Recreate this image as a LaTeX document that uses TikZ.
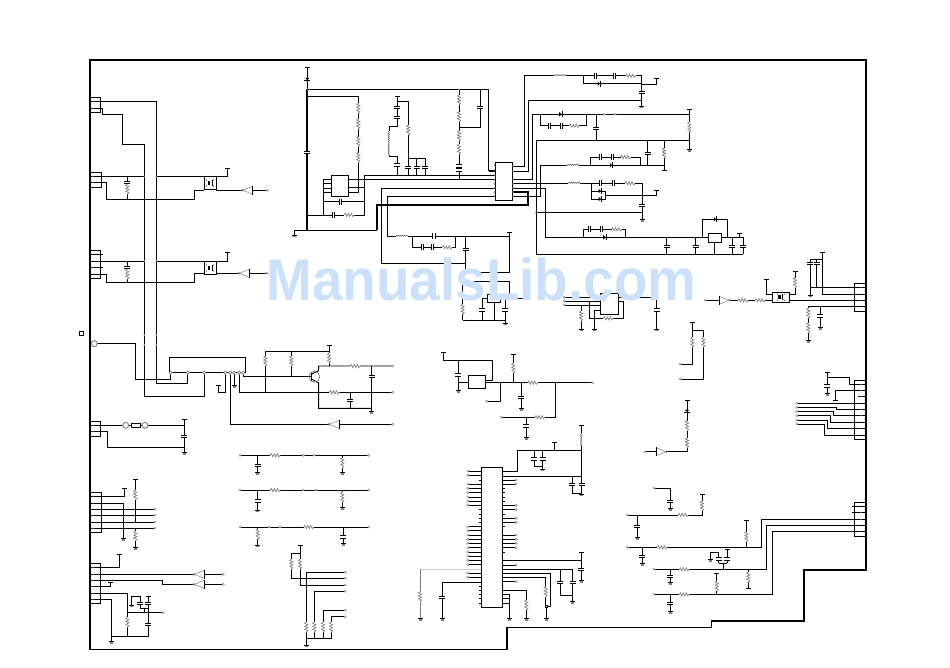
\documentclass[tikz,border=0pt]{standalone}
\usepackage{fontspec}
\usepackage{tikz}
\setmainfont{Liberation Sans}
\pgfdeclarelayer{nodelayer}
\pgfdeclarelayer{edgelayer}
\pgfsetlayers{edgelayer,nodelayer,main}
\definecolor{markgray}{gray}{0.5}
\definecolor{wmblue}{RGB}{204,224,250}
\newcommand{\boxat}[5]{\node [icbox, minimum width={(#4-#2)*1pt}, minimum height={(#5-#3)*1pt}] (#1) at ({(#2+#4)/2},{(#3+#5)/2}) {};}
\tikzset{
  wire/.style={line width=0.95pt},
  heavy/.style={line width=2.1pt},
  icbox/.style={draw, line width=0.95pt, inner sep=0pt, outer sep=0pt},
  term/.style={circle, draw=markgray, fill=white, line width=0.4pt, inner sep=0.8pt},
  pad/.style={circle, draw=markgray, fill=white, line width=0.7pt, inner sep=1.2pt},
  bigpad/.style={circle, draw=markgray, fill=white, line width=0.9pt, inner sep=2.1pt},
  jdot/.style={circle, fill=markgray, inner sep=0.7pt},
  resv/.pic={\fill [white] (-2,-5) rectangle (2,5);
    \draw [markgray, line width=0.7pt] (0,-5) -- (-1.6,-4) -- (1.6,-2.5) -- (-1.6,-1) -- (1.6,0.5) -- (-1.6,2) -- (1.6,3.5) -- (0,5);},
  resh/.pic={\fill [white] (-5,-2) rectangle (5,2);
    \draw [markgray, line width=0.7pt] (-5,0) -- (-4,-1.6) -- (-2.5,1.6) -- (-1,-1.6) -- (0.5,1.6) -- (2,-1.6) -- (3.5,1.6) -- (5,0);},
  capv/.pic={\fill [white] (-3,-1) rectangle (3,1);
    \draw [line width=0.95pt] (-3,-1.2) -- (3,-1.2) (-3,1.2) -- (3,1.2);},
  caph/.pic={\fill [white] (-1,-3) rectangle (1,3);
    \draw [line width=0.95pt] (-1.2,-3) -- (-1.2,3) (1.2,-3) -- (1.2,3);},
  dioh/.pic={\fill (-1.5,-2.2) -- (1,0) -- (-1.5,2.2) -- cycle;
    \draw [line width=0.95pt] (1.5,-3) -- (1.5,3);},
  diov/.pic={\fill (-2.2,-1.5) -- (0,1) -- (2.2,-1.5) -- cycle;
    \draw [line width=0.95pt] (-3,1.5) -- (3,1.5);},
  indh/.pic={\fill [white] (-6,-1.5) rectangle (6,1.5);
    \draw [markgray, line width=0.7pt] (-6,0) -- (-5,-1.2) -- (-4,0) -- (-3,-1.2) -- (-2,0) -- (-1,-1.2) -- (0,0) -- (1,-1.2) -- (2,0) -- (3,-1.2) -- (4,0) -- (5,-1.2) -- (6,0);},
  indv/.pic={\fill [white] (-1.5,-6) rectangle (1.5,6);
    \draw [markgray, line width=0.7pt] (0,-6) -- (-1.2,-5) -- (0,-4) -- (-1.2,-3) -- (0,-2) -- (-1.2,-1) -- (0,0) -- (-1.2,1) -- (0,2) -- (-1.2,3) -- (0,4) -- (-1.2,5) -- (0,6);},
  gnd/.pic={\draw [line width=0.95pt] (-2.5,0) -- (2.5,0);
    \fill [markgray] (-1.5,0.6) rectangle (1.5,2.4);},
  tbar/.pic={\draw [line width=0.95pt] (-2.5,0) -- (2.5,0);},
  bufl/.pic={\draw [markgray, fill=white, line width=0.5pt] (0,0) -- (10,-4) -- (10,4) -- cycle;
    \draw [markgray, line width=0.5pt] (-0.4,0) circle (1);
    \draw [line width=0.95pt] (10,-4.5) -- (10,4.5);},
  bufr/.pic={\draw [markgray, fill=white, line width=0.5pt] (10,0) -- (0,-4) -- (0,4) -- cycle;
    \draw [markgray, line width=0.5pt] (10.4,0) circle (1);
    \draw [line width=0.95pt] (0,-4.5) -- (0,4.5);},
  opto/.pic={\fill (-2.4,-2) rectangle (0.2,2);
    \draw [markgray, line width=0.7pt] (-4,-4) -- (-3,-2) (-3,2) -- (-4,4) (3,-2) -- (4,-4) (3,2) -- (4,4);
    \draw [line width=0.8pt] (2,-3) -- (2,3);}
}
\begin{document}
\begin{tikzpicture}[x=1pt, y=-1pt]
  \useasboundingbox (0,0) rectangle (950,667);
  \begin{pgfonlayer}{nodelayer}
    \boxat{j1}{90.7}{97.3}{100.7}{112.7}
    \boxat{j2}{90.7}{172.3}{101.3}{187.3}
    \boxat{j3}{90.7}{250.3}{100.7}{278.7}
    \boxat{j4}{90.7}{421.3}{100.7}{436.7}
    \boxat{j5}{90.7}{492.3}{101.3}{532.3}
    \boxat{j6}{90.7}{563.3}{100.7}{603.3}
    \boxat{j7}{854.3}{283.3}{866}{311.7}
    \boxat{j8}{854.3}{380}{866}{439.3}
    \boxat{j9}{854.3}{502.3}{866}{536.7}
    \boxat{u1}{169.3}{357.7}{245.7}{372.7}
    \boxat{u2}{495.3}{162.3}{512.5}{200.5}
    \boxat{u3}{331.3}{175.3}{348.3}{196.3}
    \boxat{u4}{487.3}{294.3}{500.7}{302.5}
    \boxat{u5}{600}{293.3}{618.3}{314.3}
    \boxat{u6}{708.3}{233.3}{721.7}{242.3}
    \boxat{u7}{468.3}{375}{485.7}{388.3}
    \boxat{u8}{481.3}{467.3}{502.3}{607.3}
    \boxat{q1}{204}{176.7}{216}{189.3}
    \boxat{q2}{204}{261.7}{216}{274}
    \boxat{q3}{772.3}{292.3}{789.3}{302.3}
    \boxat{sq}{79}{331}{83}{335}
    \node [circle, draw=markgray, line width=0.7pt, inner sep=0pt, minimum size=11pt] (trc) at (314.3,376.7) {};
    \node [draw, line width=0.7pt, fill=white, inner sep=0pt, minimum width=9pt, minimum height=3.5pt] (fuse) at (136,425.3) {};
    \node [bigpad] (p1) at (94.3,343.7) {};
    \node [bigpad] (p2) at (125.7,425.3) {};
    \node [bigpad] (p3) at (145,425.3) {};
    \node [draw, line width=1pt, fill=white, inner sep=1.2pt] (p4) at (546.7,606.7) {};
    \foreach \x/\y [count=\i] in {170.7/372.7, 187.7/372.7, 204.3/372.7, 225.3/372.7, 230.3/372.7, 234/372.7, 239.3/372.7, 243.3/372.7}
      \node [pad] (pu\i) at (\x,\y) {};
    \foreach \y [count=\i] in {165,170,175,180,184,188,192,196}
      \node [jdot] (pl\i) at (494.6,\y) {};
    \foreach \y [count=\i] in {166,171,179,184,188,192,196}
      \node [jdot] (pr\i) at (513.2,\y) {};
    \foreach \x/\y [count=\i] in {144.3/335, 156.3/335, 144.3/345, 156.3/345, 144.3/176.3, 156.3/176.3, 144.3/261, 156.3/261, 307.3/89.3, 459/89.3, 536/212.3, 604/300}
      \node [jdot] (d\i) at (\x,\y) {};
    \foreach \x/\y [count=\i] in {93/101.7, 93/108.3, 93/176.3, 93/182.3, 93/254, 93/261, 93/267.3, 93/274, 93/425.3, 93/431.7,
      93/496, 93/503, 93/509, 93/515.3, 93/522, 93/528.3, 93/567.3, 93/574.3, 93/580.3, 93/586.7, 93/593.3, 93/599.3,
      861/287.7, 861/294, 861/300.3, 861/306.7, 861/384.3, 861/390.3, 861/396.7, 861/403, 861/409.3, 861/415.7, 861/422, 861/428.7, 861/435,
      861/506, 861/512.3, 861/519.3, 861/525, 861/531.3}
      \node [jdot, inner sep=0.5pt] (cp\i) at (\x,\y) {};
    \foreach \x/\y [count=\i] in {267.3/190.3, 267.3/273.3, 392.7/366, 392.7/392.3, 392.7/424.3, 240/455.3, 368.7/455.3, 303.3/455.3, 314/455.3,
      240/490, 368.7/490, 303.3/490, 316/490, 240/527, 368.7/527, 269.3/527, 280/527, 155/509, 155/515.3, 155/522, 155/528.3,
      223.3/574.3, 223.3/584.3, 163.3/612.7, 345.3/572.3, 345.3/578.3, 345.3/585, 345.3/591.3, 345.3/610.3, 345.3/616.7,
      604.3/114.3, 615/114.3, 564.3/297.3, 564.3/301, 564.3/305, 705/300.3, 680.3/364, 680.3/379, 645/451.7,
      796.7/403.3, 796.7/407.3, 796.7/411.3, 796.7/415.7, 796.7/420, 796.7/424,
      592.7/382.7, 486.7/401.3, 501.3/417.3, 654/488.3, 627.3/515, 627.3/547.3, 654/569.3, 654/594.3}
      \node [term] (t\i) at (\x,\y) {};
    \foreach \y [count=\i] in {480,484,505.3,509.7,518.3,522.3,535,539.3,543.3,547.7,565,581.7}
      \node [term] (tr\i) at (516.3,\y) {};
    \foreach \y [count=\i] in {471,475.3,484,488.3,492.7,497,501.3,505.3,526.7,530.7,535,539.3,543.3,547.7,552,556,560.3,564.7,573.3,577.3}
      \node [term] (tl\i) at (467.7,\y) {};
    \foreach \x/\y in {127.3/189.3, 127.3/274.3, 265.3/361, 291.3/361, 329/358.3, 342.3/462.7, 342.3/497.3, 257.7/534, 135.3/495, 135.3/536,
      127.3/622.3, 291.3/564.3, 300/564.3, 306.3/627.3, 314.3/627.3, 323/627.3, 331/627.3, 358.3/108.3, 358.3/124, 358.3/141.7, 358.3/157.7,
      408.3/130, 459/100, 459/116.7, 459/136, 459/149.3, 462.7/309.3, 581/316, 689.3/127.3, 664/153, 795/282.7, 808.3/313.3, 808.3/327.7,
      692.3/342.3, 703.3/342.3, 687/425.7, 687/443, 513.3/368.3, 526.3/605, 545.7/591.7, 702/506, 746.3/536.7, 748.3/577.3, 716.7/586, 420/596.7}
      \pic at (\x,\y) {resv};
    \foreach \x/\y in {355.3/366, 334.3/392.3, 275.3/455.3, 275.3/490, 308.7/527, 349.3/215, 532.7/382.7, 540/417.3, 447.3/247.3, 630.7/75.7,
      574.3/125.7, 625.7/157, 630/183.3, 616.7/229.3, 608.3/318.3, 743/300.3, 760/300.3, 683.3/515, 662.3/547.3, 684.3/569.3, 684.3/594.3}
      \pic at (\x,\y) {resh};
    \foreach \x/\y in {127.3/182.3, 127.3/267.3, 371.7/376.7, 350.3/400.7, 184.3/436.3, 257.7/465.7, 257.7/501, 343.3/537, 148.3/624.3, 140/603.7,
      148.3/603.7, 307.3/152.3, 397.3/107.7, 397.3/117.3, 408.3/167.3, 397.3/165, 416.7/167.3, 425.3/167.3, 459/166, 459/170, 480/107.7, 465.7/249.3,
      482.3/310, 505.3/310, 641.7/92.7, 596/128.3, 647.7/153.3, 642.3/205.3, 666.7/246.7, 695.7/246.7, 732.3/246.7, 743.3/246.7, 656.7/310, 810/263.3,
      816.7/263.3, 820.3/316, 827/386, 458/375, 521.3/397.3, 526/426, 534.3/459, 542.7/459, 572/484.3, 581.7/484.3, 581/569.3, 572.7/582.3, 560/582.3,
      442.3/597.3, 670/501.7, 637.3/526.7, 642.3/556.7, 670/576.7, 670/603.3, 718.7/559, 727.3/559}
      \pic at (\x,\y) {capv};
    \foreach \x/\y in {340.7/201.7, 333.3/215, 434/236.3, 422.7/247.3, 432.7/247.3, 595.7/75.7, 614.3/75.7, 549.3/125.7, 561.3/125.7, 600.3/157, 612.3/157,
      600.3/183.3, 613.3/183.3, 589.3/229.3, 601.3/229.3}
      \pic at (\x,\y) {caph};
    \foreach \x/\y in {599/83.7, 560.7/114.3, 611.3/165.3, 600/191, 600/199, 604.7/237.3, 715.3/219.3}
      \pic at (\x,\y) {dioh};
    \foreach \x/\y in {307.3/79.3, 687/411}
      \pic at (\x,\y) {diov};
    \foreach \x/\y in {401.7/236.3, 560/75.7, 573.3/165.3, 574.3/183.3}
      \pic at (\x,\y) {indh};
    \foreach \x/\y in {389.3/136.5, 389.3/149, 581.7/439.3}
      \pic at (\x,\y) {indv};
    \foreach \x/\y in {234/385.7, 371.7/411.7, 184.3/452.7, 257.7/472.7, 342.3/472.7, 257.7/510, 342.3/507.7, 257.7/545, 343.3/543.3, 123.3/538.7, 135.3/547.7,
      111/641.7, 131.7/605, 306.3/645, 294/235, 505.3/323, 641.7/106, 689.3/149.3, 642.3/219.3, 581/329, 594/329, 656.7/329, 810/295, 808.3/340.7, 820.3/327.7,
      827/393.3, 458/390.7, 521.3/408.3, 526/437.3, 542.7/469, 581.7/494, 581/580.7, 572.7/601.7, 420/618.3, 442.3/618.3, 509/618.3, 526.3/618.3, 546.7/618.3,
      670/508.3, 637.3/537.7, 642.3/563.3, 670/582.7, 670/611.7, 710/559.3}
      \pic at (\x,\y) {gnd};
    \foreach \x/\y in {227.3/168.3, 227.7/252.3, 218.3/385, 329/345.3, 184.3/419.3, 124/488.3, 135.3/479.3, 119.3/554, 110/582.3, 148.3/596, 300/545, 307.3/67.3,
      397.3/96.7, 509.3/232.3, 656.7/78.3, 689.3/109, 664/170, 656/190.7, 739/233.3, 766/279.3, 795/271, 822.7/252.7, 692.3/322.3, 687/400, 827/372.3, 835/400,
      443.3/352.7, 513.3/354, 554.3/442.7, 581.7/425, 581/552.3, 702/494, 746.3/520, 727.3/549.3, 716.7/573.3, 748.3/588.3}
      \pic at (\x,\y) {tbar};
    \foreach \x/\y in {242.7/190.3, 239.3/273.3, 329.3/424.3, 194.3/574.3, 194.3/584.3}
      \pic at (\x,\y) {bufl};
    \foreach \x/\y in {719.3/300.3, 656/451.7}
      \pic at (\x,\y) {bufr};
    \foreach \x/\y in {210/183, 210/267.8, 780.8/297.3}
      \pic at (\x,\y) {opto};
  \end{pgfonlayer}
  \begin{pgfonlayer}{edgelayer}
    \draw [heavy] (90,60) -- (866,60) -- (866,570) -- (804,570) -- (804,621) -- (711,621);
    \draw [heavy] (90,59) -- (90,650);
    \draw [wire] (711,620) -- (711,627.3) -- (507,627.3);
    \draw [heavy] (507,627) -- (507,649);
    \draw [wire] (90,649) -- (507.5,649);
    \draw [heavy] (307.3,89.3) -- (307.3,230);
    \draw [heavy] (376.7,230) -- (376.7,204.7) -- (528.3,204.7) -- (528.3,192) -- (512.5,192);
    \draw [heavy] (488.7,170.7) -- (495.3,170.7);
    % left column
    \draw [wire] (91,101.7) -- (156.3,101.7) -- (156.3,383.3) -- (187.7,383.3) -- (187.7,372.7);
    \draw [wire] (91,108.3) -- (102.3,108.3) -- (102.3,114.3) -- (122.3,114.3) -- (122.3,144.3) -- (144.3,144.3) -- (144.3,396) -- (204.3,396) -- (204.3,372.7);
    \draw [wire] (91,176.3) -- (144.3,176.3) (156.3,176.3) -- (204,176.3) (216,176.3) -- (227.3,176.3) -- (227.3,168.3);
    \draw [wire] (91,182.3) -- (106.7,182.3) -- (106.7,199.3) -- (194.7,199.3) -- (194.7,190.3) -- (204,190.3) (216,190.3) -- (242.7,190.3) (252.7,190.3) -- (267.3,190.3);
    \draw [wire] (127.3,176.3) -- (127.3,199.3);
    \draw [wire] (91,254) -- (103,254) (91,267.3) -- (103,267.3);
    \draw [wire] (91,261) -- (144.3,261) (156.3,261) -- (204,261) (216,261) -- (227.7,261) -- (227.7,252.3);
    \draw [wire] (91,274) -- (106.7,274) -- (106.7,282.3) -- (194.7,282.3) -- (194.7,273.3) -- (204,273.3) (216,273.3) -- (239.3,273.3) (249.3,273.3) -- (267.3,273.3);
    \draw [wire] (127.3,261) -- (127.3,282.3);
    \draw [wire] (94.3,343.7) -- (135.7,343.7) -- (135.7,379.3) -- (170.7,379.3) -- (170.7,372.7);
    \draw [wire] (225.3,372.7) -- (225.3,392.3) -- (218.3,392.3) -- (218.3,385);
    \draw [wire] (234,372.7) -- (234,385.7);
    \draw [wire] (230.3,372.7) -- (230.3,424.3) -- (329.3,424.3) (339.3,424.3) -- (392.7,424.3);
    \draw [wire] (239.3,372.7) -- (239.3,392.3) -- (392.7,392.3);
    \draw [wire] (243.3,372.7) -- (243.3,376.7) -- (311,376.7);
    \draw [wire] (311,373) -- (311,380.5);
    \draw [wire] (311,374.5) -- (318.7,370.5) -- (318.7,366) -- (392.7,366) (311,378.9) -- (318.7,382.9) -- (318.7,408.3) -- (371.7,408.3);
    \draw [wire] (371.7,366) -- (371.7,411.7) (350.3,392.3) -- (350.3,408.3);
    \draw [wire] (265.3,392.3) -- (265.3,351.7) -- (329,351.7) (291.3,351.7) -- (291.3,376.7) (329,345.3) -- (329,366);
    \draw [wire] (91,425.3) -- (145,425.3) -- (184.3,425.3) (184.3,419.3) -- (184.3,452.7);
    \draw [wire] (91,431.7) -- (107.3,431.7) -- (107.3,447.3) -- (184.3,447.3);
    % filter rows
    \draw [wire] (240,455.3) -- (368.7,455.3) (257.7,455.3) -- (257.7,472.7) (342.3,455.3) -- (342.3,472.7);
    \draw [wire] (240,490) -- (368.7,490) (257.7,490) -- (257.7,510) (342.3,490) -- (342.3,507.7);
    \draw [wire] (240,527) -- (368.7,527) (257.7,527) -- (257.7,545) (343.3,527) -- (343.3,543.3);
    \draw [wire] (91,496) -- (124,496) -- (124,488.3);
    \draw [wire] (91,503) -- (123.3,503) -- (123.3,538.7);
    \foreach \y in {509,515.3,522,528.3}
      \draw [wire] (91,\y) -- (155,\y);
    \draw [wire] (135.3,479.3) -- (135.3,521.7) (135.3,528.3) -- (135.3,547.7);
    \draw [wire] (91,567.3) -- (119.3,567.3) -- (119.3,554);
    \draw [wire] (91,574.3) -- (194.3,574.3) (204.3,574.3) -- (223.3,574.3);
    \draw [wire] (91,580.3) -- (162.3,580.3) -- (162.3,584.3) -- (194.3,584.3) (204.3,584.3) -- (223.3,584.3);
    \draw [wire] (91,586.7) -- (110,586.7) -- (110,582.3);
    \draw [wire] (91,593.3) -- (127.3,593.3) -- (127.3,636);
    \draw [wire] (91,599.3) -- (111,599.3) -- (111,641.7) (111,636) -- (148.3,636) -- (148.3,596);
    \draw [wire] (127.3,612.7) -- (163.3,612.7);
    \draw [wire] (131.7,605) -- (131.7,596) -- (140,596) -- (140,608.3) -- (148.3,608.3) (144.3,608.3) -- (144.3,612.7);
    \draw [wire] (300,545) -- (300,585) -- (345.3,585) (291.3,553.3) -- (300,553.3) (291.3,553.3) -- (291.3,578.3) -- (345.3,578.3);
    \draw [wire] (345.3,572.3) -- (306.3,572.3) -- (306.3,645);
    \draw [wire] (345.3,591.3) -- (314.3,591.3) -- (314.3,638.3);
    \draw [wire] (345.3,610.3) -- (323,610.3) -- (323,638.3);
    \draw [wire] (345.3,616.7) -- (331,616.7) -- (331,638.3) -- (306.3,638.3);
    % top centre
    \draw [wire] (307.3,67.3) -- (307.3,89.3) -- (488.7,89.3) -- (488.7,170.7);
    \draw [wire] (307.3,96.3) -- (358.3,96.3) -- (358.3,192) -- (348.3,192);
    \draw [wire] (348.3,179.3) -- (495.3,179.3);
    \draw [wire] (348.3,187.7) -- (364.7,187.7);
    \draw [wire] (364.7,215) -- (364.7,175.3) -- (495.3,175.3);
    \draw [wire] (331.3,179.3) -- (323.3,179.3) -- (323.3,215) (323.3,183.7) -- (331.3,183.7) (323.3,188) -- (331.3,188) (323.3,192.3) -- (331.3,192.3);
    \draw [wire] (323.3,201.7) -- (364.7,201.7) (307.3,215) -- (364.7,215);
    \draw [wire] (294,235) -- (294,230) -- (376.7,230);
    \draw [wire] (397.3,96.7) -- (397.3,126) -- (389.3,126) -- (389.3,156.7) -- (397.3,156.7) -- (397.3,175.3);
    \draw [wire] (397.3,101.7) -- (408.3,101.7) -- (408.3,175.3);
    \draw [wire] (408.3,158.3) -- (425.3,158.3) -- (425.3,175.3) (416.7,158.3) -- (416.7,175.3);
    \draw [wire] (459,89.3) -- (459,179.3) (480,89.3) -- (480,127.7) -- (459,127.7);
    \draw [wire] (495.3,188.3) -- (381.3,188.3) -- (381.3,263.3) -- (465.7,263.3);
    \draw [wire] (495.3,196) -- (387.3,196) -- (387.3,236.3) -- (509.3,236.3);
    \draw [wire] (412.3,236.3) -- (412.3,247.3) -- (455.7,247.3) -- (455.7,236.3);
    \draw [wire] (465.7,236.3) -- (465.7,272.3) -- (509.3,272.3) -- (509.3,232.3);
    \draw [wire] (462.7,320) -- (462.7,281.7) -- (509.3,281.7) -- (509.3,298.3);
    \draw [wire] (462.7,320) -- (505.3,320) (505.3,298.3) -- (505.3,323);
    \draw [wire] (487.3,298.3) -- (482.3,298.3) -- (482.3,320) (494.3,302.5) -- (494.3,320) (500.7,298.3) -- (530,298.3);
    % top right
    \draw [wire] (512.5,166) -- (524.3,166) -- (524.3,75.7) -- (641.7,75.7) -- (641.7,106);
    \draw [wire] (583.3,75.7) -- (583.3,83.7) -- (641.7,83.7) (641.7,84) -- (656.7,84) -- (656.7,78.3);
    \draw [wire] (512.5,171) -- (528.5,171) -- (528.5,100.5) -- (641.7,100.5);
    \draw [wire] (512.5,179.3) -- (532.7,179.3) -- (532.7,114.3) -- (689.3,114.3);
    \draw [wire] (540.3,114.3) -- (540.3,125.7) -- (586,125.7) -- (586,114.3) (596,114.3) -- (596,140.7);
    \draw [wire] (689.3,109) -- (689.3,149.3);
    \draw [wire] (536.2,212.3) -- (536.2,140.7) -- (689.3,140.7) (536.2,212.3) -- (536.2,254.3) -- (743.3,254.3);
    \draw [wire] (647.7,140.7) -- (647.7,165.3) (664,140.7) -- (664,170);
    \draw [wire] (512.5,196.2) -- (540.7,196.2) -- (540.7,165.3) -- (664,165.3);
    \draw [wire] (590.3,165.3) -- (590.3,157) -- (640.3,157) -- (640.3,165.3);
    \draw [wire] (512.5,183.5) -- (642.3,183.5) -- (642.3,219.3);
    \draw [wire] (591.3,183.5) -- (591.3,199) -- (605.7,199) -- (605.7,191) -- (591.3,191) (605.7,195.3) -- (656,195.3) -- (656,190.7);
    \draw [wire] (536.2,212.3) -- (642.3,212.3);
    \draw [wire] (512.5,188) -- (545.7,188) -- (545.7,237.3) -- (708.3,237.3) (721.7,237.3) -- (743.3,237.3) -- (743.3,254.3);
    \draw [wire] (583.3,237.3) -- (583.3,229.3) -- (625.7,229.3) -- (625.7,237.3);
    \draw [wire] (666.7,237.3) -- (666.7,254.3) (695.7,237.3) -- (695.7,254.3) (732.3,237.3) -- (732.3,254.3) (714.3,242.3) -- (714.3,254.3);
    \draw [wire] (739,233.3) -- (739,237.3);
    \draw [wire] (702.3,237.3) -- (702.3,219.3) -- (727.3,219.3) -- (727.3,237.3);
    % centre right
    \draw [wire] (564.3,297.3) -- (600,297.3) (618.3,297.3) -- (656.7,297.3) -- (656.7,329);
    \draw [wire] (564.3,301) -- (600,301) (564.3,305) -- (600,305);
    \draw [wire] (581,305) -- (581,329);
    \draw [wire] (589.3,301) -- (589.3,318.3) -- (623.3,318.3) -- (623.3,301.7) -- (618.3,301.7);
    \draw [wire] (600,310) -- (594,310) -- (594,329);
    \draw [wire] (705,300.3) -- (719.3,300.3) (729.3,300.3) -- (772.3,300.3) (789.3,300.3) -- (866,300.3);
    \draw [wire] (766,279.3) -- (766,294.3) -- (772.3,294.3);
    \draw [wire] (795,271) -- (795,294.3) -- (789.3,294.3);
    \draw [wire] (810,295) -- (810,259.3) -- (822.7,259.3) (816.7,259.3) -- (816.7,287.7) (810,287.7) -- (866,287.7);
    \draw [wire] (822.7,252.7) -- (822.7,294) -- (866,294);
    \draw [wire] (808.3,340.7) -- (808.3,306.7) -- (866,306.7) (820.3,306.7) -- (820.3,327.7);
    \draw [wire] (692.3,322.3) -- (692.3,364) -- (680.3,364) (692.3,330) -- (703.3,330) -- (703.3,379) -- (680.3,379);
    \draw [wire] (687,400) -- (687,451.7) -- (666,451.7) (645,451.7) -- (656,451.7);
    \draw [wire] (827,372.3) -- (827,393.3) (827,377.3) -- (849.3,377.3) -- (849.3,384.3) -- (866,384.3);
    \draw [wire] (835,400) -- (835,390.3) -- (866,390.3) (858,396.7) -- (866,396.7);
    \draw [wire] (796.7,403.3) -- (866,403.3);
    \draw [wire] (796.7,407.3) -- (836.7,407.3) -- (836.7,409.3) -- (866,409.3);
    \draw [wire] (796.7,411.3) -- (833.3,411.3) -- (833.3,415.7) -- (866,415.7);
    \draw [wire] (796.7,415.7) -- (830,415.7) -- (830,422) -- (866,422);
    \draw [wire] (796.7,420) -- (827.3,420) -- (827.3,428.7) -- (866,428.7);
    \draw [wire] (796.7,424) -- (824.3,424) -- (824.3,435) -- (866,435);
    % regulator and big ic
    \draw [wire] (443.3,352.7) -- (443.3,360) -- (492.3,360) -- (492.3,380) -- (485.7,380);
    \draw [wire] (458,360) -- (458,390.7) (458,382.7) -- (468.3,382.7);
    \draw [wire] (485.7,382.7) -- (592.7,382.7);
    \draw [wire] (500,382.7) -- (500,401.3) -- (486.7,401.3);
    \draw [wire] (513.3,354) -- (513.3,382.7) (521.3,382.7) -- (521.3,408.3);
    \draw [wire] (555.7,382.7) -- (555.7,417.3) -- (501.3,417.3) (526,417.3) -- (526,437.3);
    \draw [wire] (581.7,425) -- (581.7,494) (554.3,442.7) -- (554.3,450.3);
    \draw [wire] (502.3,471.7) -- (517.3,471.7) -- (517.3,450.3) -- (581.7,450.3);
    \draw [wire] (534.3,450.3) -- (534.3,466.7) -- (542.7,466.7) (542.7,450.3) -- (542.7,469);
    \draw [wire] (502.3,476) -- (581.7,476) (572,476) -- (572,493.3) -- (581.7,493.3);
    \foreach \y in {480,484,505.3,509.7,518.3,522.3,535,539.3,543.3,547.7,565,581.7}
      \draw [wire] (502.3,\y) -- (516.3,\y);
    \foreach \y in {488.3,492.7,497,501.3,514,526.7,552.3}
      \draw [wire] (502.3,\y) -- (505,\y);
    \foreach \y in {471,475.3,484,488.3,492.7,497,501.3,505.3,526.7,530.7,535,539.3,543.3,547.7,552,556,560.3,564.7,573.3,577.3}
      \draw [wire] (467.7,\y) -- (481.3,\y);
    \foreach \y in {480,509.7,514,518.3,522.3,586,590.3,594.7,598.7,603}
      \draw [wire] (479,\y) -- (481.3,\y);
    \draw [wire] (502.3,560.3) -- (581,560.3) (581,552.3) -- (581,580.7);
    \draw [wire] (502.3,569.3) -- (572.7,569.3) -- (572.7,601.7) (560,569.3) -- (560,595) -- (572.7,595);
    \draw [wire] (502.3,573.3) -- (550,573.3) -- (550,606.7) -- (546.7,606.7);
    \draw [wire] (502.3,577.3) -- (545.7,577.3) -- (545.7,606.7) (546.7,606.7) -- (546.7,618.3);
    \draw [wire] (502.3,590) -- (526.3,590) -- (526.3,618.3);
    \draw [wire] (502.3,594.3) -- (509,594.3) -- (509,618.3) (502.3,598.7) -- (509,598.7) (502.3,603) -- (509,603);
    \draw [wire, black!18] (481.3,569) -- (420,569);
    \draw [line width=0.6pt, markgray] (420,569) -- (420,618.3);
    \draw [wire] (481.3,582.3) -- (442.3,582.3) -- (442.3,618.3);
    % bottom right
    \draw [wire] (851.7,506) -- (866,506) (851.7,512.3) -- (866,512.3);
    \draw [wire] (654,488.3) -- (670,488.3) -- (670,508.3);
    \draw [wire] (702,494) -- (702,515) -- (627.3,515) (637.3,515) -- (637.3,537.7);
    \draw [wire] (627.3,547.3) -- (761.3,547.3) -- (761.3,519.3) -- (866,519.3) (642.3,547.3) -- (642.3,563.3) (746.3,520) -- (746.3,547.3);
    \draw [wire] (654,569.3) -- (766.7,569.3) -- (766.7,525) -- (866,525) (670,569.3) -- (670,582.7) (748.3,569.3) -- (748.3,588.3);
    \draw [wire] (723.3,569.3) -- (723.3,563.3) (718.7,563.3) -- (727.3,563.3) (727.3,549.3) -- (727.3,563.3) (718.7,563.3) -- (718.7,552.7) -- (710,552.7) -- (710,559.3);
    \draw [wire] (654,594.3) -- (772.3,594.3) -- (772.3,531.3) -- (866,531.3) (670,594.3) -- (670,611.7) (716.7,573.3) -- (716.7,594.3);
  \end{pgfonlayer}
  \node [text=wmblue, font=\bfseries\fontsize{59}{59}\selectfont, inner sep=0pt, xscale=0.93, transform shape] (mark) at (481.5,279.3) {ManualsLib.com};
\end{tikzpicture}
\end{document}
